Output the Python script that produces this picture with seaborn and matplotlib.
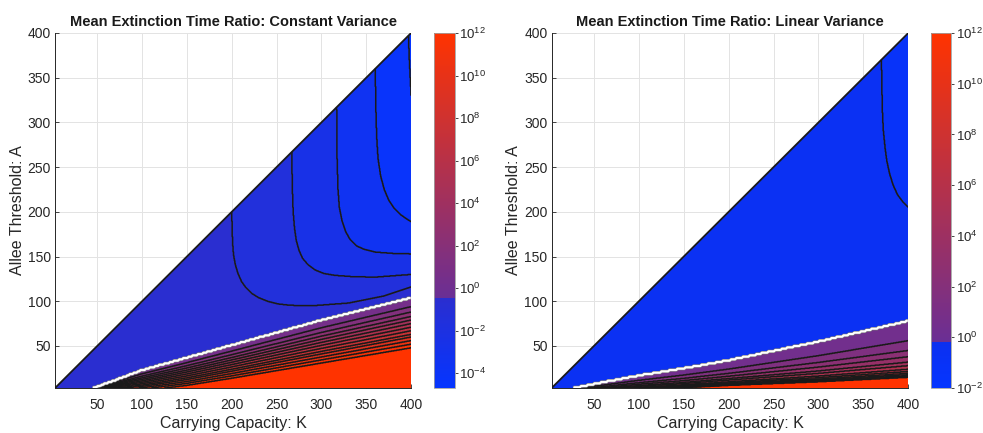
import numpy as np
import matplotlib
matplotlib.use('Agg')
import matplotlib.pyplot as plt
import matplotlib.patheffects as pe
import seaborn as sns
from matplotlib.colors import LinearSegmentedColormap, Normalize
from matplotlib.cm import ScalarMappable

# ---- data (log10 of the mean extinction time ratio) ----
# Constant variance: contours above the ratio = 1 line (K, A points)
const_upper_levels = [-1, -2, -3, -4, -4.5]
const_c1_K = [200, 200.5, 201, 202, 204, 207, 211, 216, 222, 230, 240, 252, 265, 290, 330, 370, 400]
const_c1_A = [200, 180, 165, 152, 141, 131, 122, 115, 109, 104, 100, 97, 95.5, 95, 98, 106, 116]
const_c2_K = [267, 267.5, 268.5, 270, 272, 275, 279, 285, 293, 303, 315, 335, 360, 400]
const_c2_A = [267, 230, 200, 182, 168, 157, 148, 141, 135, 131, 129, 127.5, 127, 130]
const_c3_K = [317, 317.5, 318.5, 320, 323, 327, 332, 339, 348, 360, 380, 400]
const_c3_A = [317, 260, 225, 205, 190, 178, 169, 162, 158, 155, 153.5, 153]
const_c4_K = [360, 360.5, 361.5, 363, 366, 370, 375, 381, 388, 395, 400]
const_c4_A = [360, 320, 285, 260, 240, 225, 213, 204, 197, 192, 189]
const_c5_K = [397, 398, 400]
const_c5_A = [397, 370, 330]

# Constant variance: ratio = 1 line (first row) and contours 10^1 ... 10^12 below it
const_lower_levels = list(range(0, 13))
const_low_K = [40, 50, 100, 150, 200, 300, 400]
const_low_A = [
    [1.5, 4.5, 23.0, 37.0, 51.0, 79.0, 104],
    [0, 3.8, 18.9, 31.4, 44.3, 70.4, 94],
    [0, 3.3, 16.3, 28.0, 40.3, 65.1, 88],
    [0, 3.0, 14.4, 25.4, 37.1, 61.0, 83],
    [0, 2.6, 12.7, 23.0, 34.4, 57.4, 79],
    [0, 2.2, 11.0, 20.9, 31.8, 54.0, 75],
    [0, 1.8, 9.4, 18.7, 29.2, 50.7, 71],
    [0, 1.4, 7.8, 16.5, 26.6, 47.3, 67],
    [0, 1.0, 6.2, 14.4, 24.0, 44.0, 63],
    [0, 0.7, 4.8, 12.5, 21.8, 41.1, 60],
    [0, 0.4, 3.2, 10.3, 19.2, 37.7, 56],
    [0, 0.2, 1.6, 8.2, 16.6, 34.4, 52],
    [0, 0.0, 0.0, 6.0, 14.0, 31.0, 48],
]

# Linear variance
lin_upper_levels = [-1]
lin_c1_K = [370, 370.5, 371, 372, 374, 376, 379, 383, 388, 394, 400]
lin_c1_A = [370, 340, 315, 292, 272, 257, 243, 230, 219, 211, 205]

lin_lower_levels = list(range(0, 13))
lin_low_K = [20, 50, 100, 150, 200, 300, 400]
lin_low_A = [
    [1.5, 7.5, 17.0, 25.0, 34.0, 55.0, 78],
    [0, 4.9, 11.6, 17.5, 24.2, 39.2, 56],
    [0, 3.6, 8.9, 13.8, 19.4, 31.6, 45],
    [0, 2.7, 7.2, 11.3, 16.2, 26.4, 38],
    [0, 2.0, 5.7, 9.3, 13.6, 22.1, 32],
    [0, 1.6, 4.8, 8.0, 11.9, 19.4, 28],
    [0, 1.1, 3.7, 6.6, 10.0, 16.4, 24],
    [0, 0.8, 3.1, 5.7, 8.9, 14.6, 21.5],
    [0, 0.5, 2.6, 5.0, 8.0, 13.1, 19.5],
    [0, 0.4, 2.3, 4.5, 7.3, 12.2, 18],
    [0, 0.2, 2.0, 4.1, 6.8, 11.3, 16.8],
    [0, 0.1, 1.7, 3.7, 6.4, 10.6, 15.8],
    [0, 0.0, 1.5, 3.5, 6.0, 10.0, 15],
]

xticks = [50, 100, 150, 200, 250, 300, 350, 400]
yticks = [50, 100, 150, 200, 250, 300, 350, 400]

sns.set_theme(style='white')
plt.rcParams['font.family'] = ['Liberation Sans', 'DejaVu Sans']
plt.rcParams['mathtext.default'] = 'regular'
text_col = '#262626'


def make_cmap(lo, hi, brk, blue_lo, blue_hi):
    f = (brk - lo) / (hi - lo)
    return LinearSegmentedColormap.from_list('ext', [
        (0.0, blue_lo), (f, blue_hi), (f + 1e-4, '#6a2f95'), (1.0, '#ff3300')])


def build_field(Kg, Ag, upper_curves, low_K, low_A):
    KK, AA = np.meshgrid(Kg, Ag)
    idx = np.zeros_like(KK)
    for ck, ca in upper_curves:
        h = np.interp(Kg, ck, ca, left=np.inf)
        idx -= (AA > h[None, :])
    for row in low_A:
        h = np.interp(Kg, low_K, row)
        idx += (AA < h[None, :])
    return KK, AA, idx


def panel(ax, cax, title, upper_levels, upper_curves, lower_levels, low_K, low_A,
          vmin, brk, blue_lo, blue_hi, cticks):
    Kg = np.linspace(3, 400, 800)
    Ag = np.linspace(3, 400, 800)
    KK, AA, idx = build_field(Kg, Ag, upper_curves, low_K, low_A)
    lv = sorted(upper_levels) + list(lower_levels)
    nu = len(upper_levels)
    mids = [lv[0] - 0.2] + [(a + b) / 2 for a, b in zip(lv[:-1], lv[1:])] + [lv[-1] + 0.3]
    band = np.clip(idx + nu, 0, len(lv)).astype(int)
    Z = np.array(mids)[band]
    Z[AA > KK] = np.nan

    cmap = make_cmap(vmin, 12, brk, blue_lo, blue_hi)
    norm = Normalize(vmin=vmin, vmax=12)
    band_cols = [cmap(norm(np.clip(m, vmin, 12))) for m in mids]
    bounds = [lv[0] - 5] + lv + [lv[-1] + 5]

    ax.contourf(KK, AA, Z, levels=bounds, colors=band_cols, antialiased=True, zorder=2)
    ax.contour(KK, AA, Z, levels=[l for l in lv if l != 0], colors='k',
               linewidths=1.1, linestyles='solid', zorder=3)
    s = 3
    cs = ax.contour(KK[::s, ::s], AA[::s, ::s], Z[::s, ::s], levels=[0], colors='white',
                    linewidths=1.6, linestyles='solid', zorder=4)
    cs.set_path_effects([pe.Stroke(linewidth=2.4, foreground='#777777'), pe.Normal()])
    sns.lineplot(x=Kg, y=Kg, color='k', linewidth=1.3, ax=ax, zorder=5)

    ax.set_xlim(3, 400)
    ax.set_ylim(3, 400)
    ax.set_xticks(xticks)
    ax.set_yticks(yticks)
    ax.grid(True, color='#e3e3e3', linewidth=0.7)
    ax.set_axisbelow(True)
    for sp in ['top', 'right']:
        ax.spines[sp].set_visible(False)
    for sp in ['left', 'bottom']:
        ax.spines[sp].set_color('#262626')
        ax.spines[sp].set_linewidth(0.7)
    ax.tick_params(direction='in', length=3, width=0.6, colors=text_col,
                   labelsize=10, left=True, bottom=True)
    ax.tick_params(axis='x', pad=7)
    ax.tick_params(axis='y', pad=3)
    ax.set_xlabel('Carrying Capacity: K', fontsize=11.5, color=text_col, labelpad=3)
    ax.set_ylabel('Allee Threshold: A', fontsize=11.5, color=text_col, labelpad=2)
    ax.set_title(title, fontsize=10.5, fontweight='bold', color='k', pad=5)

    cb = plt.colorbar(ScalarMappable(norm=norm, cmap=cmap), cax=cax)
    cb.set_ticks(cticks)
    cb.set_ticklabels([f'$10^{{{t}}}$' for t in cticks])
    cb.outline.set_edgecolor('#a0a0a0')
    cb.outline.set_linewidth(0.6)
    cax.tick_params(direction='out', length=2, width=0.6, colors=text_col,
                    labelsize=9.5, pad=1.5)


fig = plt.figure(figsize=(9.83, 4.33), dpi=100)
ax1 = fig.add_axes([0.0560, 0.1039, 0.3622, 0.8199])
cax1 = fig.add_axes([0.4410, 0.1039, 0.0214, 0.8199])
ax2 = fig.add_axes([0.5612, 0.1039, 0.3628, 0.8199])
cax2 = fig.add_axes([0.9468, 0.1039, 0.0210, 0.8199])

const_curves = [(const_c1_K, const_c1_A), (const_c2_K, const_c2_A), (const_c3_K, const_c3_A),
                (const_c4_K, const_c4_A), (const_c5_K, const_c5_A)]
panel(ax1, cax1, 'Mean Extinction Time Ratio: Constant Variance',
      const_upper_levels, const_curves, const_lower_levels, const_low_K, const_low_A,
      vmin=-4.7, brk=-0.45, blue_lo='#0535ff', blue_hi='#2b2ecf',
      cticks=[-4, -2, 0, 2, 4, 6, 8, 10, 12])
panel(ax2, cax2, 'Mean Extinction Time Ratio: Linear Variance',
      lin_upper_levels, [(lin_c1_K, lin_c1_A)], lin_lower_levels, lin_low_K, lin_low_A,
      vmin=-2, brk=-0.2, blue_lo='#0535ff', blue_hi='#0c30f0',
      cticks=[-2, 0, 2, 4, 6, 8, 10, 12])

fig.savefig('out.png', dpi=100)
